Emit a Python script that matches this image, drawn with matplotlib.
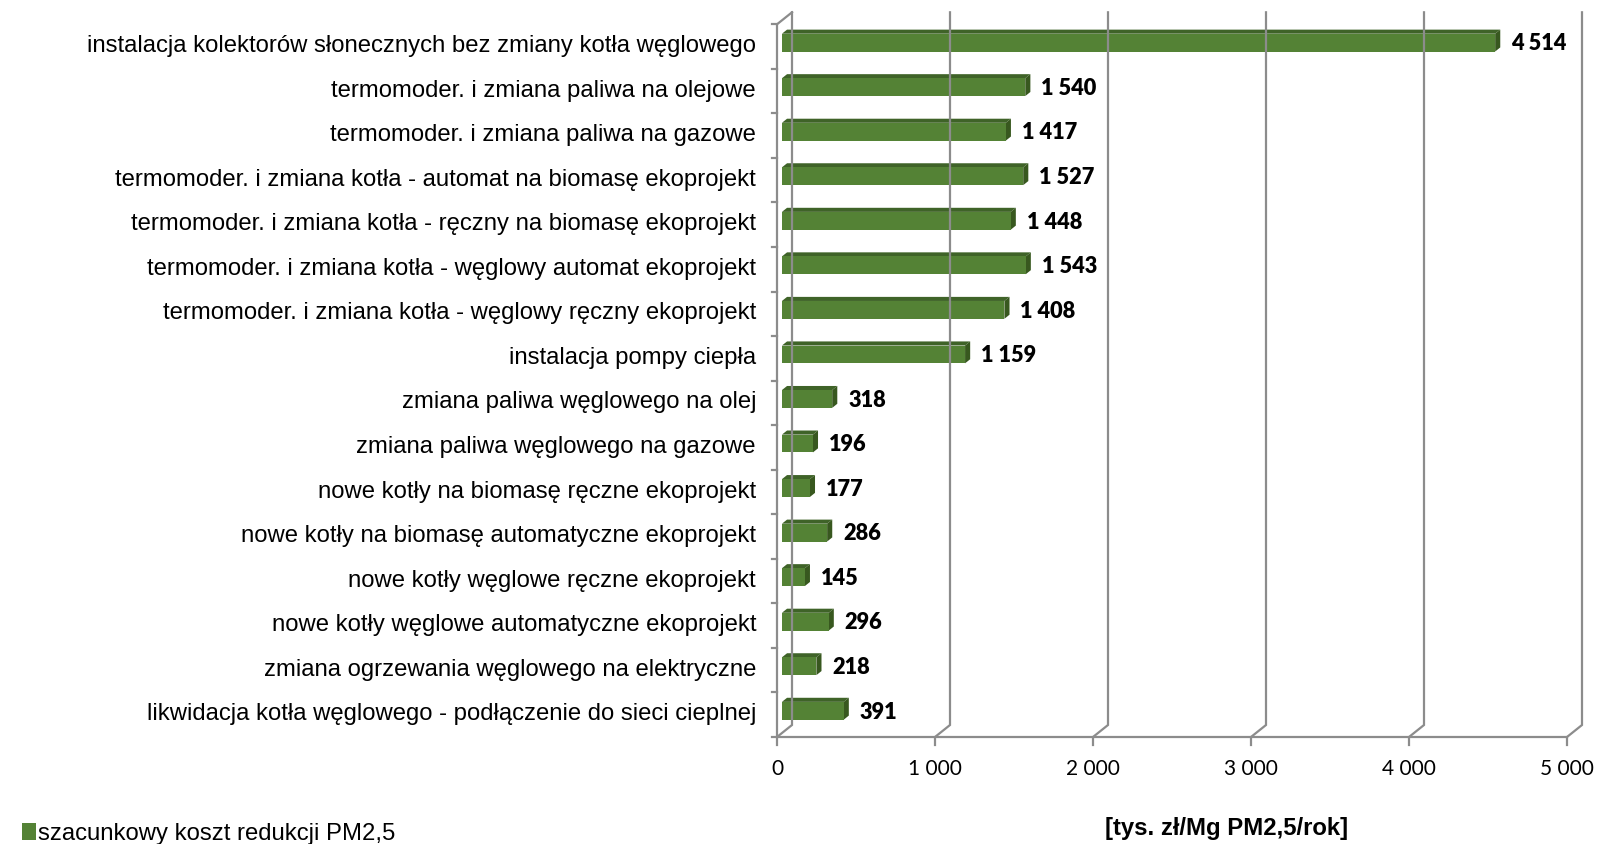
import numpy as np
import matplotlib
matplotlib.use('Agg')
from matplotlib import pyplot as plt
from matplotlib.patches import Polygon, Patch

categories = [
    'instalacja kolektorów słonecznych bez zmiany kotła węglowego',
    'termomoder. i zmiana paliwa na olejowe',
    'termomoder. i zmiana paliwa na gazowe',
    'termomoder. i zmiana kotła - automat na biomasę ekoprojekt',
    'termomoder. i zmiana kotła - ręczny na biomasę ekoprojekt',
    'termomoder. i zmiana kotła - węglowy automat ekoprojekt',
    'termomoder. i zmiana kotła - węglowy ręczny ekoprojekt',
    'instalacja pompy ciepła',
    'zmiana paliwa węglowego na olej',
    'zmiana paliwa węglowego na gazowe',
    'nowe kotły na biomasę ręczne ekoprojekt',
    'nowe kotły na biomasę automatyczne ekoprojekt',
    'nowe kotły węglowe ręczne ekoprojekt',
    'nowe kotły węglowe automatyczne ekoprojekt',
    'zmiana ogrzewania węglowego na elektryczne',
    'likwidacja kotła węglowego - podłączenie do sieci cieplnej',
]
values = [4514, 1540, 1417, 1527, 1448, 1543, 1408, 1159,
          318, 196, 177, 286, 145, 296, 218, 391]
xticks = [0, 1000, 2000, 3000, 4000, 5000]
legend_label = 'szacunkowy koszt redukcji PM2,5'
unit_label = '[tys. zł/Mg PM2,5/rok]'

W, H = 1597, 844
fig = plt.figure(figsize=(W / 100, H / 100), dpi=100)

# plot area in pixels: value 0 -> x=777, 5000 -> x=1567; categories y=24.3..737
x0, x1 = 777, 1567
y0, y1 = 24.3, 737
ax = fig.add_axes([x0 / W, 1 - y1 / H, (x1 - x0) / W, (y1 - y0) / H])
n = len(categories)
ax.set_xlim(0, 5000)
ax.set_ylim(n, 0)
ax.axis('off')

px_x = 5000 / (x1 - x0)        # data units per pixel (x)
px_y = n / (y1 - y0)           # category units per pixel (y)
DX = 15 * px_x                 # depth offset of the back wall
DY = 12 * px_y

grid_c = '#8c8c8c'
lw = 1.6
front_c = '#548235'
top_c = '#3f6328'
side_c = '#38581f'

# back wall gridlines + floor diagonals + ticks
for t in xticks:
    ax.plot([t + DX, t + DX, t, t], [-DY, n - DY, n, n + 8 * px_y],
            color=grid_c, lw=lw, clip_on=False, solid_joinstyle='miter')
    ax.text(t, n + 32 * px_y, f'{t:,}'.replace(',', ' '), ha='center', va='center',
            fontsize=15, family='Lato', color='#000000')
# left wall
ax.plot([DX, 0, 0, 5000], [-DY, 0, n, n], color=grid_c, lw=lw, clip_on=False)
for k in range(n + 1):
    ax.plot([-5 * px_x, 0], [k, k], color=grid_c, lw=lw, clip_on=False)

# 3D bars
d0, d1 = 0.33, 0.67
h = 0.2
for i, (cat, v) in enumerate(zip(categories, values)):
    c = i + 0.5
    yf_top = c - d0 * DY - h
    yf_bot = c - d0 * DY + h
    yb_top = c - d1 * DY - h
    yb_bot = c - d1 * DY + h
    xs = d0 * DX
    xe = v + d0 * DX
    top = Polygon([(xs, yf_top), (xe, yf_top), (v + d1 * DX, yb_top), (d1 * DX, yb_top)],
                  closed=True, facecolor=top_c, edgecolor='none', clip_on=False)
    side = Polygon([(xe, yf_top), (xe, yf_bot), (v + d1 * DX, yb_bot), (v + d1 * DX, yb_top)],
                   closed=True, facecolor=side_c, edgecolor='none', clip_on=False)
    front = Polygon([(xs, yf_top), (xe, yf_top), (xe, yf_bot), (xs, yf_bot)],
                    closed=True, facecolor=front_c, edgecolor='none', clip_on=False)
    ax.add_patch(top)
    ax.add_patch(side)
    ax.add_patch(front)
    ax.text(v + 21 * px_x, i + 0.44, f'{v:,}'.replace(',', ' '), ha='left', va='center',
            fontsize=15.7, family='Lato', weight='heavy', color='#000000')
    ax.text(-21 * px_x, i + 0.49, cat, ha='right', va='center',
            fontsize=17.2, family='Liberation Sans', color='#000000')

fig.legend(handles=[Patch(facecolor=front_c, edgecolor='none', label=legend_label)],
           loc='center left', bbox_to_anchor=(22 / W, 1 - 834 / H), frameon=False,
           prop={'family': 'Liberation Sans', 'size': 17.2},
           handlelength=0.6, handleheight=0.7, handletextpad=0.08, borderaxespad=0, borderpad=0)
fig.text(1227 / W, 1 - 828 / H, unit_label, ha='center', va='center',
         fontsize=17.2, family='Liberation Sans', weight='bold')

plt.savefig('out.png', dpi=100)
